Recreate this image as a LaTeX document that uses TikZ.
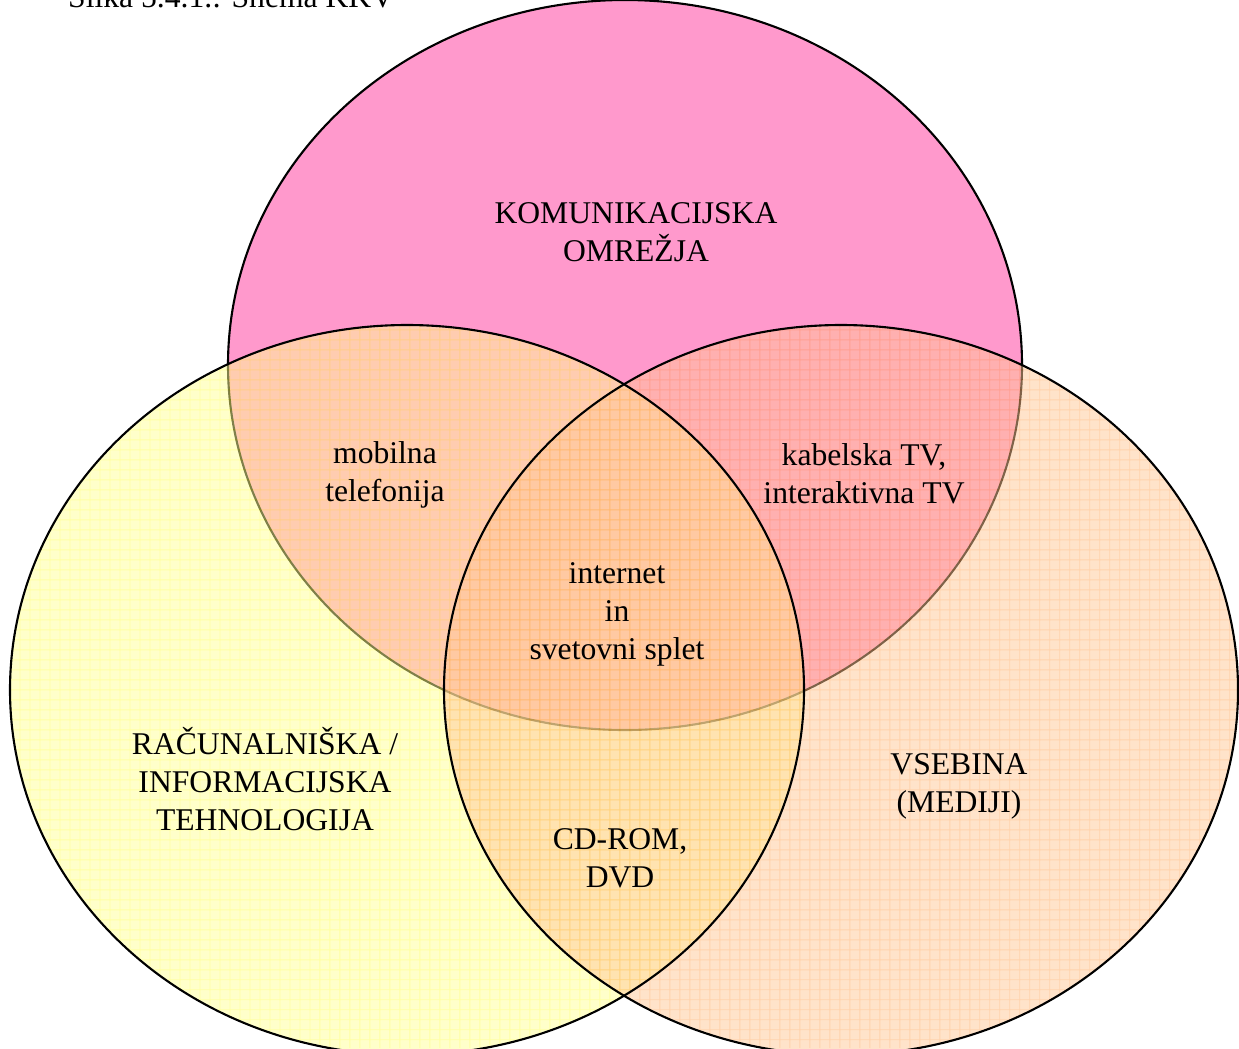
\documentclass[tikz,border=0pt]{standalone}
\usepackage{fontspec}
\setmainfont{Liberation Serif}
\usepackage{xcolor}

\definecolor{pinkfill}{RGB}{255,153,204}
\definecolor{yellowfill}{RGB}{255,255,150}
\definecolor{yellowgrid}{RGB}{255,255,70}
\definecolor{peachfill}{RGB}{255,200,150}
\definecolor{peachgrid}{RGB}{255,165,90}

\tikzset{
  vennlabel/.style={align=center, font=\fontsize{18}{21.6}\selectfont},
  vennline/.style={line width=1.2pt},
  gridline/.style={line width=0.5pt, step=0.2cm},
}

\begin{document}
\begin{tikzpicture}[x=0.02cm, y=0.02cm]
        \useasboundingbox (0,0) rectangle (1239,-1048);

        % communication networks
        \fill[pinkfill] (625,-365) ellipse (397 and 365);
        \draw[vennline] (625,-365) ellipse (397 and 365);

        % computing / IT
        \begin{scope}[transparency group, opacity=0.5]
            \fill[yellowfill] (407,-690) ellipse (397 and 365);
            \clip (407,-690) ellipse (397 and 365);
            \draw[yellowgrid, gridline] (0,-1048) grid (1239,0);
        \end{scope}

        % content
        \begin{scope}[transparency group, opacity=0.5]
            \fill[peachfill] (841,-690) ellipse (397 and 365);
            \clip (841,-690) ellipse (397 and 365);
            \draw[peachgrid, gridline] (0,-1048) grid (1239,0);
        \end{scope}

        \draw[vennline] (407,-690) ellipse (397 and 365);
        \draw[vennline] (841,-690) ellipse (397 and 365);

        % labels
        \node[anchor=base west, vennlabel] (caption) at (62,-8) {Slika 5.4.1.: Shema KKV};
        \node[vennlabel] (omrezja) at (636,-232) {KOMUNIKACIJSKA\\OMREŽJA};
        \node[vennlabel] (mobilna) at (385,-475) {mobilna\\telefonija};
        \node[vennlabel] (kabelska) at (864,-474) {kabelska TV,\\interaktivna TV};
        \node[vennlabel] (internet) at (617,-614) {internet\\in\\svetovni splet};
        \node[vennlabel] (racunalniska) at (265,-779) {RAČUNALNIŠKA /\\INFORMACIJSKA\\TEHNOLOGIJA};
        \node[vennlabel] (vsebina) at (959,-786) {VSEBINA\\(MEDIJI)};
        \node[vennlabel] (cdrom) at (620,-858) {CD-ROM,\\DVD};

    \end{tikzpicture}
\end{document}
